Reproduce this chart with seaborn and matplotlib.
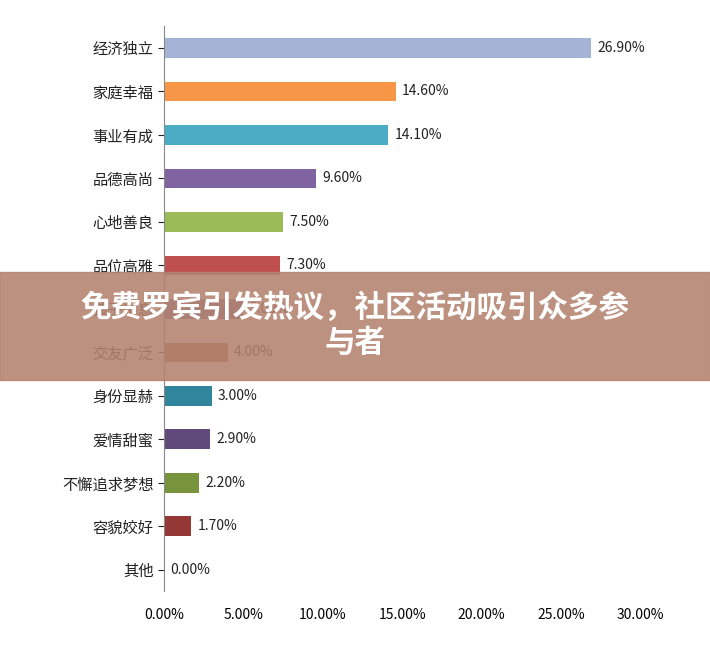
import matplotlib
matplotlib.use("Agg")
import matplotlib.pyplot as plt
import seaborn as sns
import pandas as pd
from matplotlib.patches import Rectangle

plt.rcParams["font.family"] = "Noto Sans CJK SC"

categories = ["经济独立","家庭幸福","事业有成","品德高尚","心地善良","品位高雅","孩子出息",
              "交友广泛","身份显赫","爱情甜蜜","不懈追求梦想","容貌姣好","其他"]
values = [26.9,14.6,14.1,9.6,7.5,7.3,5.0,4.0,3.0,2.9,2.2,1.7,0.0]
colors = ["#a5b4d6","#f79646","#4bacc6","#8064a2","#9bbb59","#c0504d","#7a6a9a",
          "#b0653a","#31859c","#604a7b","#77933c","#953735","#4f81bd"]
xticks = [0,5,10,15,20,25,30]

df = pd.DataFrame({"cat": categories, "val": values})
fig = plt.figure(figsize=(7.1,6.55), dpi=100)
ax = fig.add_axes([0.231, 0.097, 0.671, 0.863])
sns.barplot(data=df, y="cat", x="val", hue="cat", palette=colors, legend=False,
            ax=ax, width=0.45, saturation=1)
for i, v in enumerate(values):
    ax.text(v+0.4, i, f"{v:.2f}%", va="center", fontsize=10, color="#222")
ax.set_xlim(0,30)
ax.set_xticks(xticks)
ax.set_xticklabels([f"{t:.2f}%" for t in xticks], fontsize=10)
ax.tick_params(axis="y", labelsize=11, length=4, colors="#222")
ax.tick_params(axis="x", length=0, pad=12)
ax.set_xlabel(""); ax.set_ylabel("")
for s in ["top","right","bottom"]:
    ax.spines[s].set_visible(False)
ax.spines["left"].set_color("#888")
ax.set_ylim(len(categories)-0.5, -0.5)

fig.patches.append(Rectangle((0,0.42),1,0.165,transform=fig.transFigure,
                             color="#b4826f",alpha=0.88,zorder=5))
fig.text(0.5,0.503,"免费罗宾引发热议，社区活动吸引众多参\n与者",ha="center",va="center",
         fontsize=22,fontweight="bold",color="white",zorder=6,linespacing=1.15)
fig.savefig("out.png", dpi=100)
